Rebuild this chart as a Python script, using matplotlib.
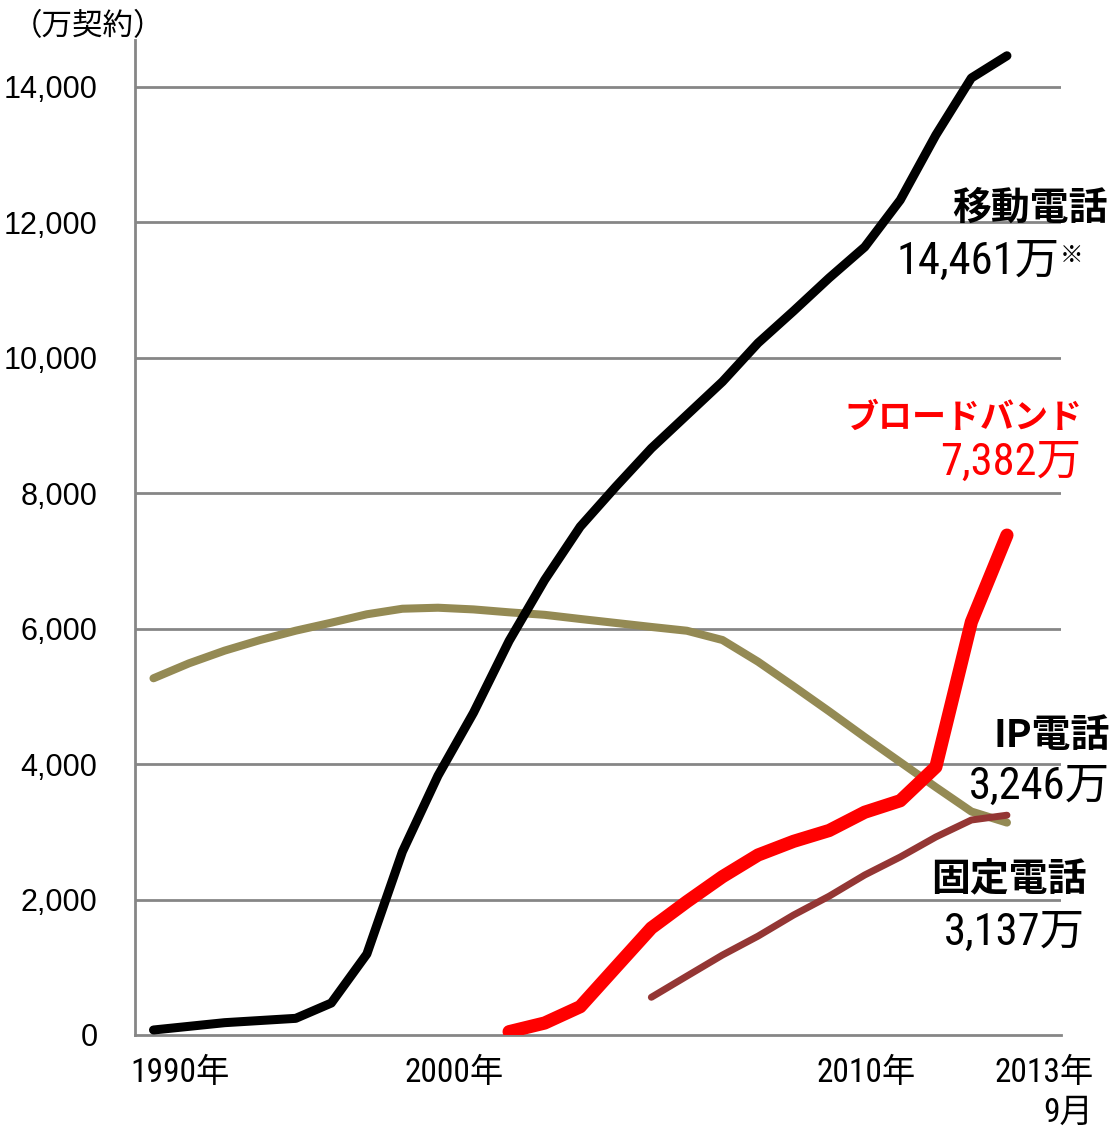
import matplotlib
matplotlib.use("Agg")
import matplotlib.pyplot as plt

# ---- data (万契約), 25 points: 1990 ... 2013年9月 ----
idx = list(range(25))
mobile = [74, 128, 182, 214, 246, 472, 1196, 2707, 3830, 4760, 5820, 6720, 7507,
          8097, 8664, 9156, 9648, 10219, 10692, 11180, 11637, 12331, 13290, 14133, 14461]
fixed = [5268, 5489, 5676, 5833, 5971, 6089, 6213, 6295, 6310, 6285, 6242, 6205, 6144,
         6085, 6026, 5970, 5833, 5513, 5150, 4780, 4400, 4030, 3660, 3300, 3137]
bb_idx = list(range(10, 25))
broadband = [49, 177, 418, 1000, 1580, 1969, 2338, 2658, 2860, 3020, 3290, 3460, 3958, 6100, 7382]
ip_idx = list(range(14, 25))
ip_phone = [557, 870, 1181, 1460, 1772, 2050, 2363, 2629, 2924, 3175, 3246]

tick_pos = [0.74, 8.45, 20.04, 25.04]
tick_labels = ["1990年", "2000年", "2010年", "2013年\n9月"]
yticks = [0, 2000, 4000, 6000, 8000, 10000, 12000, 14000]

W, H = 1117, 1128
fig = plt.figure(figsize=(W / 100, H / 100), dpi=100)
ax = fig.add_axes([135 / W, 1 - 1035 / H, (1061 - 135) / W, (1035 - 40) / H])

cjk = ["Noto Sans CJK JP", "DejaVu Sans"]
num = ["Roboto Condensed", "Archivo Narrow", "Noto Sans CJK JP", "DejaVu Sans"]

grid_c = "#868686"
ax.set_xlim(-0.52, 25.52)
ax.set_ylim(0, 14694)
ax.set_yticks(yticks)
ax.set_yticklabels([f"{v:,}" for v in yticks], fontfamily=["Liberation Sans", "DejaVu Sans"], fontsize=22)
ax.tick_params(axis="y", length=0, pad=27)
ax.set_xticks(tick_pos)
ax.set_xticklabels(tick_labels, fontfamily=num, fontsize=24)
ax.tick_params(axis="x", length=0, pad=16)
for lab in ax.get_xticklabels():
    lab.set_multialignment("right")
    lab.set_linespacing(1.3)
for v in yticks[1:]:
    ax.axhline(v, color=grid_c, lw=2, zorder=1)
for s in ["top", "right"]:
    ax.spines[s].set_visible(False)
ax.spines["left"].set_color(grid_c)
ax.spines["left"].set_linewidth(2)
ax.spines["bottom"].set_color(grid_c)
ax.spines["bottom"].set_linewidth(2)

ax.plot(idx, fixed, color="#948A54", lw=5.8, solid_capstyle="round", solid_joinstyle="round", zorder=3)
ax.plot(idx, mobile, color="#000000", lw=6.5, solid_capstyle="round", solid_joinstyle="round", zorder=4)
ax.plot(ip_idx, ip_phone, color="#943634", lw=5.0, solid_capstyle="round", solid_joinstyle="round", zorder=5)
ax.plot(bb_idx, broadband, color="#FF0000", lw=9.5, solid_capstyle="round", solid_joinstyle="round", zorder=6)


def ftext(x, y, s, **kw):
    fig.text(x / W, 1 - y / H, s, **kw)


ftext(12, 27, "（万契約）", fontfamily=cjk, fontsize=22, ha="left", va="center")

ftext(1108, 208, "移動電話", fontfamily=cjk, fontweight="bold", fontsize=28, ha="right", va="center")
ftext(1060, 262, f"{mobile[-1]:,}万", fontfamily=num, fontsize=32, ha="right", va="center")
ftext(1083, 255, "※", fontfamily=cjk, fontsize=17, ha="right", va="center")

ftext(1082, 417, "ブロードバンド", fontfamily=cjk, fontweight="bold", fontsize=24.5, ha="right", va="center", color="#FF0000")
ftext(1081, 463, f"{broadband[-1]:,}万", fontfamily=num, fontsize=32, ha="right", va="center", color="#FF0000")

ftext(1110, 735, "IP電話", fontfamily=cjk, fontweight="bold", fontsize=28, ha="right", va="center")
ftext(1110, 787, f"{ip_phone[-1]:,}万", fontfamily=num, fontsize=32, ha="right", va="center")

ftext(1087, 880, "固定電話", fontfamily=cjk, fontweight="bold", fontsize=28, ha="right", va="center")
ftext(1085, 933, f"{fixed[-1]:,}万", fontfamily=num, fontsize=32, ha="right", va="center")

fig.savefig("out.png", dpi=100, facecolor="white")
